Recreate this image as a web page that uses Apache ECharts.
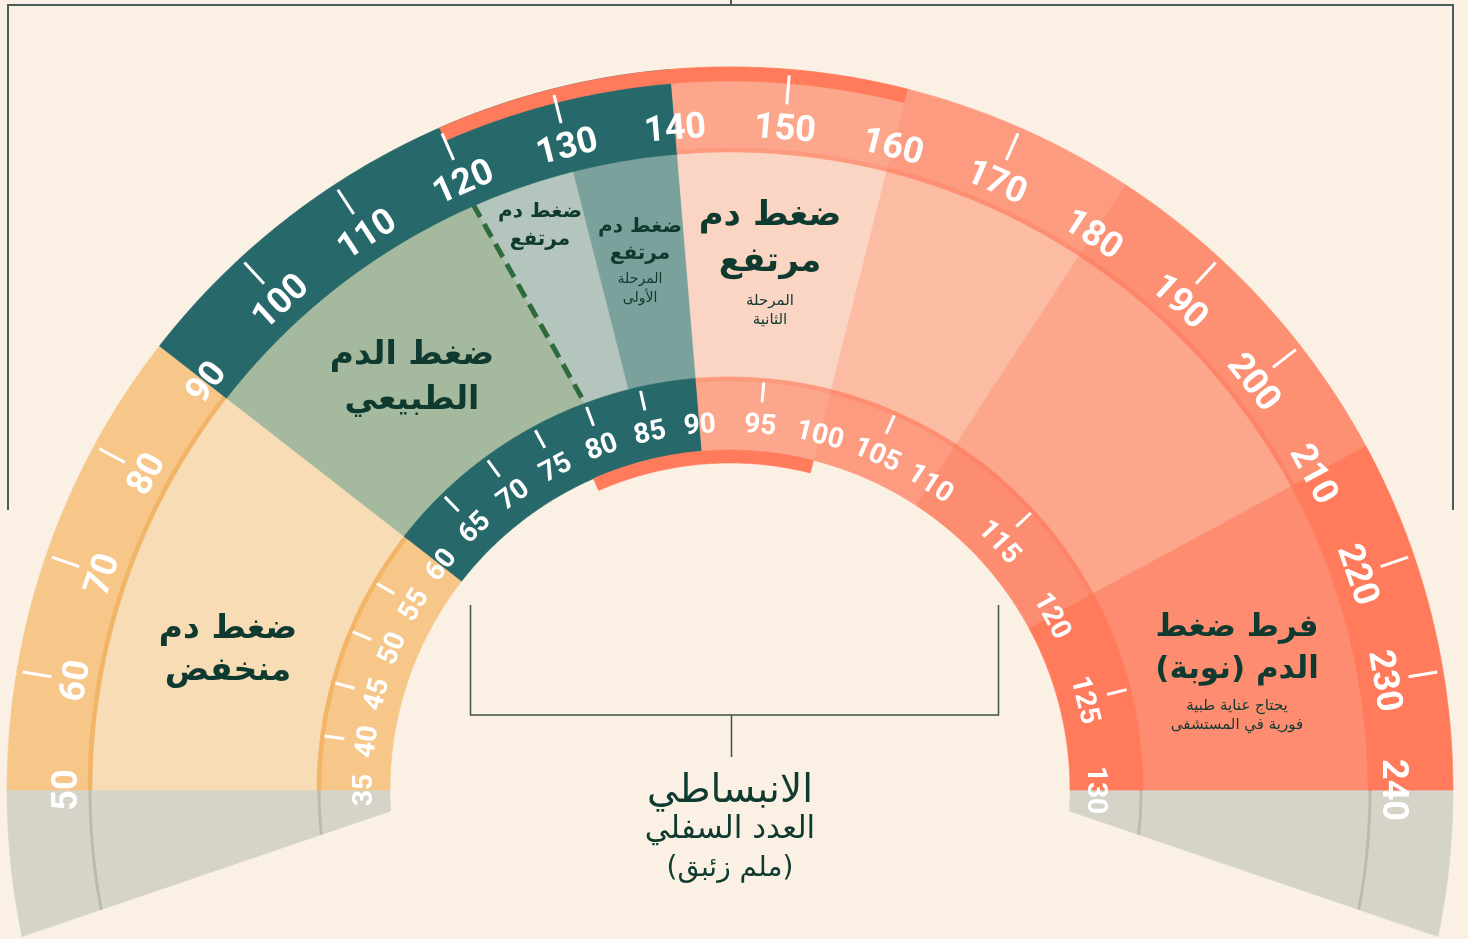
<!DOCTYPE html>
<html><head><meta charset="utf-8">
<script src="https://cdn.jsdelivr.net/npm/echarts@6/dist/echarts.min.js"></script>
<style>html,body{margin:0;padding:0;background:#faf1e4;}#c{width:1468px;height:939px;}</style>
</head><body><div id="c"></div>
<script>
// ---------------- DATA ----------------
// Systolic (outer) scale labels and ticks
const sysLabels = [50,60,70,80,90,100,110,120,130,140,150,160,170,180,190,200,210,220,230,240];
const sysTicks  = [60,70,80,100,110,120,130,150,170,190,200,220,230];
// Diastolic (inner) scale labels and ticks
const diaLabels = [35,40,45,50,55,60,65,70,75,80,85,90,95,100,105,110,115,120,125,130];
const diaTicks  = [40,45,50,55,65,70,75,80,85,95,105,115,125];
// Correspondence between diastolic and systolic category boundaries
const diaKnots = [35,60,90,100,110,120,130];
const sysKnots = [50,90,140,160,180,210,240];
// Outer (systolic) band segments
const outerBandFrom = [50,90,140,160,180,210];
const outerBandTo   = [90,140,160,180,210,240];
// Inner (diastolic) band segments
const innerBandFrom = [35,60,90,100,110,120];
const innerBandTo   = [60,90,100,110,120,130];
// Category zones: systolic range (outer edge) and diastolic range (inner edge)
const zoneSysFrom = [50,90,120,130,140,160,180,210];
const zoneSysTo   = [90,120,130,140,160,180,210,240];
const zoneDiaFrom = [35,60,80,84,90,100,110,120];
const zoneDiaTo   = [60,80,84,90,100,110,120,130];
// Highlighted systolic range (red strips)
const highlightFrom = 120, highlightTo = 160;
// Threshold (dashed line): systolic 120 / diastolic 80
const thresholdSys = 120, thresholdDia = 80;
// Texts
const zoneTitles = ['ضغط دم\nمنخفض','ضغط الدم\nالطبيعي','ضغط دم\nمرتفع','ضغط دم\nمرتفع','ضغط دم\nمرتفع','\u200Fفرط ضغط\nالدم (نوبة)\u200F'];
const zoneSubs   = ['','','','المرحلة\nالأولى','المرحلة\nالثانية','يحتاج عناية طبية\nفورية في المستشفى'];
const axisTitle  = ['الانبساطي','العدد السفلي','\u200F(ملم زئبق)\u200F'];

// ---------------- STYLE ----------------
const BG = '#faf1e4';
const outerBandColors = ['#f6c789','#27696a','#fca78c','#fd9b80','#fd8f73','#ff7b5c'];
const outerEdgeColors = ['#f2b466','#27696a','#fd997d','#fd8e72','#fd8468','#ff7b5c'];
const innerBandColors = ['#f6c789','#27696a','#fca78c','#fd9b80','#fd8d71','#ff7b5c'];
const innerEdgeColors = ['#f2b466','#27696a','#fd997d','#fd8e72','#fd8468','#ff7b5c'];
const zoneColors = ['#f8dcb6','#a4b99d','#b3c5bc','#7aa19b','#fbd5c3','#fcbba3','#fca78c','#fe8c70'];
const STRIP = '#ff7b5c';
const GRAY = '#d6d4c8', GRAY_LINE = '#b9bbaf';
const TXT = '#0f3a30';
const AR = '"DejaVu Sans", "Noto Sans", sans-serif';
const NUM = 'Roboto, "DejaVu Sans", sans-serif';

// radii (px, radius axis is in px)
const R_OUT = 723, R_STRIP = 709, R_BAND_IN = 640;
const R_FILL_IN = 411, R_INNER_IN = 340, R_ISTRIP = 327;

function diaToSys(d){
  for (let i = 0; i < diaKnots.length - 1; i++) {
    if (d <= diaKnots[i+1] || i === diaKnots.length - 2) {
      const t = (d - diaKnots[i]) / (diaKnots[i+1] - diaKnots[i]);
      return sysKnots[i] + t * (sysKnots[i+1] - sysKnots[i]);
    }
  }
}
function arc(api, r, v0, v1){
  const n = Math.max(2, Math.ceil(Math.abs(v1 - v0) * 2));
  const pts = [];
  for (let i = 0; i <= n; i++) { const p = api.coord([r, v0 + (v1 - v0) * i / n]); pts.push([p[0], p[1]]); }
  return pts;
}
function ring(api, r0, r1, v0, v1, fill){
  return {type:'polygon', shape:{points: arc(api, r1, v0, v1).concat(arc(api, r0, v1, v0))},
          style:{fill: fill, stroke: fill, lineWidth: 0.6}};
}
function mathAngle(api, r, v){ const p = api.coord([r, v]); return Math.atan2(790 - p[1], p[0] - 730); }

const base = {type:'custom', coordinateSystem:'polar', silent:true, animation:false};

const series = [
  // gray continuation below the horizon
  Object.assign({}, base, {data:[[0,100]], z:1, renderItem:function(params, api){
    const ch = [ring(api, R_INNER_IN, R_OUT, 36, 50, GRAY), ring(api, R_INNER_IN, R_OUT, 240, 254, GRAY)];
    [R_BAND_IN, R_FILL_IN].forEach(function(r){
      ch.push({type:'polyline', shape:{points: arc(api, r, 36, 50)}, style:{stroke:GRAY_LINE, lineWidth:3, fill:null}});
      ch.push({type:'polyline', shape:{points: arc(api, r, 240, 254)}, style:{stroke:GRAY_LINE, lineWidth:3, fill:null}});
    });
    ch.push({type:'polygon', shape:{points:[[440,794.6],[-40,958],[440,958]]}, style:{fill:BG}});
    ch.push({type:'polygon', shape:{points:[[1020,794.6],[1500,958],[1020,958]]}, style:{fill:BG}});
    return {type:'group', children: ch};
  }}),
  // zones
  Object.assign({}, base, {data: zoneSysFrom.map(function(v){return [R_BAND_IN, v];}), z:2, renderItem:function(params, api){
    const i = params.dataIndex;
    const pts = arc(api, R_BAND_IN + 2, zoneSysFrom[i], zoneSysTo[i])
      .concat(arc(api, R_FILL_IN - 2, diaToSys(zoneDiaTo[i]), diaToSys(zoneDiaFrom[i])));
    return {type:'polygon', shape:{points:pts}, style:{fill:zoneColors[i], stroke:zoneColors[i], lineWidth:0.6}};
  }}),
  // threshold dashed line
  Object.assign({}, base, {data:[[R_BAND_IN, thresholdSys]], z:3, renderItem:function(params, api){
    const a = api.coord([R_BAND_IN, thresholdSys]), b = api.coord([R_FILL_IN, diaToSys(thresholdDia)]);
    return {type:'line', shape:{x1:a[0], y1:a[1], x2:b[0], y2:b[1]}, style:{stroke:'#2d6a3c', lineWidth:5, lineDash:[15,8]}};
  }}),
  // outer band
  Object.assign({}, base, {data: outerBandFrom.map(function(v){return [R_OUT, v];}), z:4, renderItem:function(params, api){
    const i = params.dataIndex;
    return {type:'group', children:[
      ring(api, R_BAND_IN, R_OUT, outerBandFrom[i], outerBandTo[i], outerBandColors[i]),
      ring(api, R_BAND_IN - 2, R_BAND_IN + 2, outerBandFrom[i], outerBandTo[i], outerEdgeColors[i])
    ]};
  }}),
  // inner band
  Object.assign({}, base, {data: innerBandFrom.map(function(v){return [R_FILL_IN, v];}), z:4, renderItem:function(params, api){
    const i = params.dataIndex;
    const a = diaToSys(innerBandFrom[i]), b = diaToSys(innerBandTo[i]);
    return {type:'group', children:[
      ring(api, R_INNER_IN, R_FILL_IN, a, b, innerBandColors[i]),
      ring(api, R_FILL_IN - 2, R_FILL_IN + 2, a, b, innerEdgeColors[i])
    ]};
  }}),
  // highlight strips
  Object.assign({}, base, {data:[[R_OUT, highlightFrom]], z:5, renderItem:function(params, api){
    return {type:'group', children:[
      ring(api, R_STRIP, R_OUT, highlightFrom, highlightTo, STRIP),
      ring(api, R_ISTRIP, R_INNER_IN, highlightFrom, highlightTo, STRIP)
    ]};
  }}),
  // systolic ticks + labels
  Object.assign({}, base, {data: sysLabels.map(function(v){return [662, v];}), z:6, renderItem:function(params, api){
    const v = sysLabels[params.dataIndex];
    const p = api.coord([662, v]);
    const ch = [{type:'text', x:p[0], y:p[1], rotation: mathAngle(api, 662, v) - Math.PI/2,
      style:{text:String(v), fill:'#ffffff', fontSize:36, fontWeight:'bold', fontFamily:NUM, align:'center', verticalAlign:'middle'}}];
    if (sysTicks.indexOf(v) >= 0) {
      const a = api.coord([688, v]), b = api.coord([717, v]);
      ch.push({type:'line', shape:{x1:a[0], y1:a[1], x2:b[0], y2:b[1]}, style:{stroke:'#ffffff', lineWidth:3}});
    }
    return {type:'group', children: ch};
  }}),
  // diastolic ticks + labels
  Object.assign({}, base, {data: diaLabels.map(function(v){return [365, v];}), z:6, renderItem:function(params, api){
    const v = diaLabels[params.dataIndex], s = diaToSys(v);
    const p = api.coord([365, s]);
    const ch = [{type:'text', x:p[0], y:p[1], rotation: mathAngle(api, 365, s) - Math.PI/2,
      style:{text:String(v), fill:'#ffffff', fontSize:28, fontWeight:'bold', fontFamily:NUM, align:'center', verticalAlign:'middle'}}];
    if (diaTicks.indexOf(v) >= 0) {
      const a = api.coord([389, s]), b = api.coord([409, s]);
      ch.push({type:'line', shape:{x1:a[0], y1:a[1], x2:b[0], y2:b[1]}, style:{stroke:'#ffffff', lineWidth:3}});
    }
    return {type:'group', children: ch};
  }})
];

function t(x, y, text, size, weight, lh){
  return {type:'text', x:x, y:y, z:20, silent:true,
    style:{text:text, fill:TXT, fontSize:size, fontWeight:weight, fontFamily:AR, lineHeight:lh, align:'center', verticalAlign:'middle'}};
}
const graphic = [
  {type:'polyline', z:20, silent:true, shape:{points:[[8,510],[8,5],[1453,5],[1453,510]]}, style:{stroke:'#4b5d59', lineWidth:2, fill:null}},
  {type:'line', z:20, silent:true, shape:{x1:731, y1:0, x2:731, y2:5}, style:{stroke:'#4b5d59', lineWidth:2}},
  {type:'polyline', z:20, silent:true, shape:{points:[[470.5,605],[470.5,715],[998.5,715],[998.5,605]]}, style:{stroke:'#3f504d', lineWidth:1.5, fill:null}},
  {type:'line', z:20, silent:true, shape:{x1:731.5, y1:715, x2:731.5, y2:757}, style:{stroke:'#3f504d', lineWidth:1.5}},
  t(228, 650, zoneTitles[0], 33, 'bold', 42),
  t(412, 378, zoneTitles[1], 33, 'bold', 45),
  t(540, 226, zoneTitles[2], 20, 'bold', 28),
  t(640, 240, zoneTitles[3], 20, 'bold', 27),
  t(640, 289, zoneSubs[3], 14, 'normal', 19),
  t(770, 239, zoneTitles[4], 34, 'bold', 46),
  t(770, 311, zoneSubs[4], 15, 'normal', 19),
  t(1237, 649, zoneTitles[5], 31, 'bold', 42),
  t(1237, 716, zoneSubs[5], 15, 'normal', 19),
  t(730, 792, axisTitle[0], 39, 'normal', 40),
  t(730, 830, axisTitle[1], 31, 'normal', 34),
  t(730, 869, axisTitle[2], 28, 'normal', 34)
];

const chart = echarts.init(document.getElementById('c'), null, {renderer:'canvas'});
chart.setOption({
  backgroundColor: BG,
  animation: false,
  polar: {center:[730, 790], radius:[0, R_OUT]},
  radiusAxis: {type:'value', min:0, max:R_OUT, show:false},
  angleAxis: {type:'value', min:50, max:430, startAngle:180, clockwise:true, show:false},
  series: series,
  graphic: graphic
});
</script></body></html>
